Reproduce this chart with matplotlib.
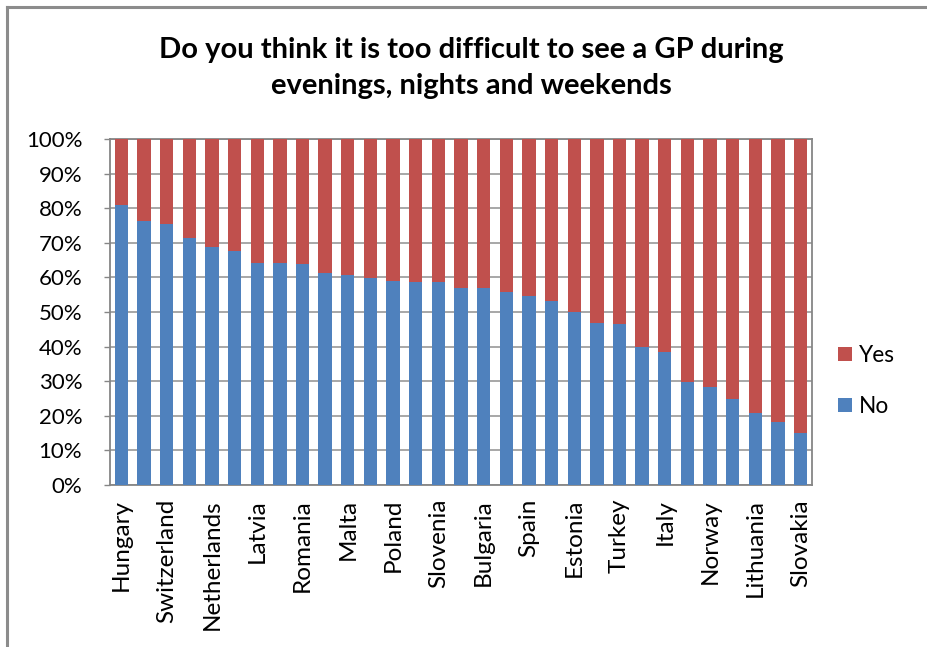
import matplotlib
matplotlib.use("Agg")
import matplotlib.pyplot as plt
from matplotlib.lines import Line2D
import numpy as np

# Countries, sorted by share answering "No"
countries = [
    "Hungary", "Austria", "Switzerland", "Belgium", "Netherlands", "Croatia",
    "Latvia", "Cyprus", "Romania", "Czech Republic", "Malta", "Denmark",
    "Poland", "Finland", "Slovenia", "France", "Bulgaria", "Germany",
    "Spain", "Greece", "Estonia", "Iceland", "Turkey", "Ireland",
    "Italy", "Luxembourg", "Norway", "Macedonia", "Lithuania", "Portugal",
    "Slovakia",
]

no_share = [
    80.9, 76.2, 75.4, 71.4, 68.7, 67.6, 64.3, 64.3, 64.0, 61.3, 60.6,
    59.8, 59.1, 58.7, 58.7, 56.8, 56.8, 55.8, 54.6, 53.1, 50.1, 46.8,
    46.5, 39.8, 38.3, 29.8, 28.2, 25.0, 20.8, 18.3, 14.9,
]
yes_share = [100.0 - v for v in no_share]

y_ticks = [0, 10, 20, 30, 40, 50, 60, 70, 80, 90, 100]
y_tick_labels = [f"{t}%" for t in y_ticks]

title = "Do you think it is too difficult to see a GP during\nevenings, nights and weekends"

BLUE = "#4F81BD"
RED = "#C0504D"
GRID = "#A0A0A0"
AXIS = "#868686"
FONT = "Lato"

fig = plt.figure(figsize=(9.27, 6.47), dpi=100)
fig.patch.set_facecolor("white")

# Chart-area frame (top and left edges visible)
fig.add_artist(Line2D([7.5 / 927, 1.0], [1 - 7 / 647, 1 - 7 / 647],
                      transform=fig.transFigure, color="#8C8C8C", lw=2.2))
fig.add_artist(Line2D([7.5 / 927, 7.5 / 927], [0.0, 1 - 7 / 647],
                      transform=fig.transFigure, color="#8C8C8C", lw=2.2))

ax = fig.add_axes([110 / 927, 162 / 647, 702 / 927, 346 / 647])
x = np.arange(len(countries))
ax.bar(x, no_share, width=0.59, color=BLUE, label="No", zorder=3)
ax.bar(x, yes_share, width=0.59, bottom=no_share, color=RED, label="Yes", zorder=3)

ax.set_xlim(-0.5, len(countries) - 0.5)
ax.set_ylim(0, 100)
ax.set_yticks(y_ticks)
ax.set_yticklabels(y_tick_labels, fontsize=16, family=FONT, color="#000000")
ax.yaxis.grid(True, color=GRID, lw=1.3, zorder=0)
ax.set_axisbelow(True)
ax.tick_params(axis="y", length=4, width=1, color=AXIS, pad=16)

ax.set_xticks(x[::2])
ax.set_xticklabels(countries[::2], rotation=90, fontsize=17.5, family=FONT,
                   va="top", ha="center")
ax.tick_params(axis="x", length=0, pad=10)

for side in ["left", "bottom", "top", "right"]:
    ax.spines[side].set_color(AXIS)
    ax.spines[side].set_linewidth(1.3)

fig.text(471 / 927, 1 - 68 / 647, title, ha="center", va="center",
         fontsize=21, fontweight="bold", family=FONT, linespacing=1.45)

handles, labels = ax.get_legend_handles_labels()
leg = fig.legend(handles[::-1], labels[::-1], loc="center left",
                 bbox_to_anchor=(818 / 927, 1 - 381 / 647), frameon=False,
                 prop={"family": FONT, "size": 16.3}, handlelength=0.6,
                 handleheight=0.6, handletextpad=0.3, labelspacing=1.35)

fig.savefig("out.png", dpi=100)
